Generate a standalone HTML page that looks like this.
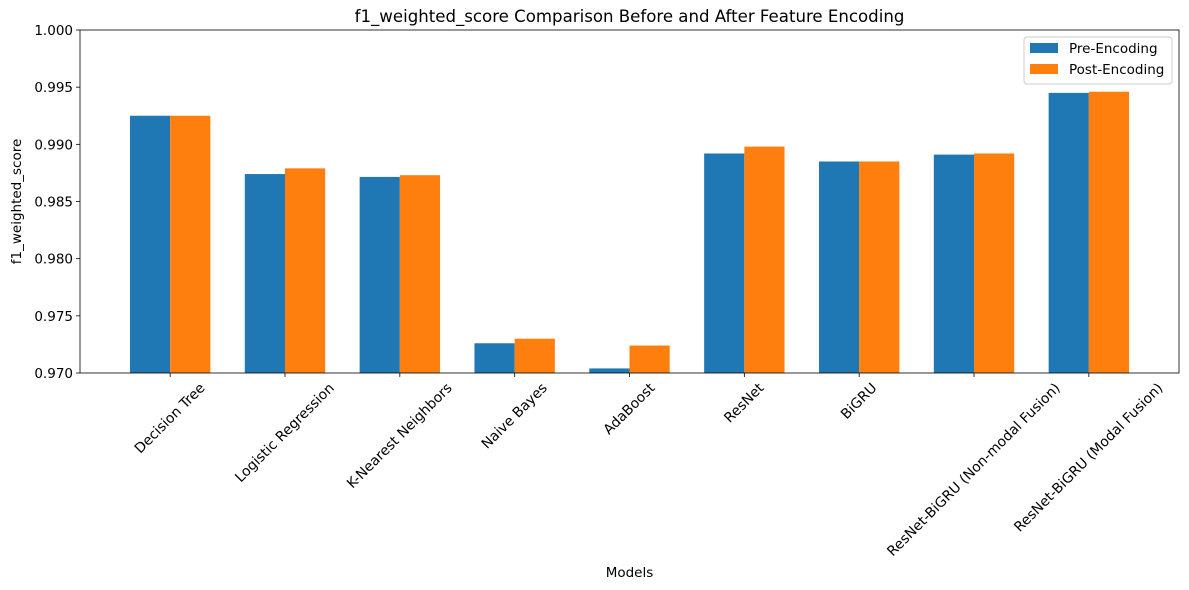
<!DOCTYPE html>
<html><head><meta charset="utf-8"><style>
html,body{margin:0;padding:0;background:#fff;}
svg{display:block;font-family:"DejaVu Sans","Liberation Sans",sans-serif;}
</style></head><body>
<svg id="chart" width="1189" height="590" xmlns="http://www.w3.org/2000/svg"></svg>
<script>
const categories=["Decision Tree","Logistic Regression","K-Nearest Neighbors","Naive Bayes","AdaBoost","ResNet","BiGRU","ResNet-BiGRU (Non-modal Fusion)","ResNet-BiGRU (Modal Fusion)"];
const preValues=[0.9925,0.9874,0.98715,0.9726,0.9704,0.9892,0.9885,0.9891,0.9945];
const postValues=[0.9925,0.9879,0.9873,0.9730,0.9724,0.9898,0.9885,0.9892,0.9946];
const yTicks=[0.970,0.975,0.980,0.985,0.990,0.995,1.000];
const yTickLabels=["0.970","0.975","0.980","0.985","0.990","0.995","1.000"];

const NS="http://www.w3.org/2000/svg";
const svg=document.getElementById('chart');
const L=80,R=1179,T=30,B=373;
const yMin=0.970,yMax=1.000;
const n=categories.length;
const FS=13.5;
const XFS=13.9;
const xLo=-0.35-0.05*(n-1+0.7),xHi=(n-1)+0.35+0.05*(n-1+0.7);
const x=v=>L+(v-xLo)/(xHi-xLo)*(R-L);
const y=v=>B-(v-yMin)/(yMax-yMin)*(B-T);
const bw=0.35*(R-L)/(xHi-xLo);
function mk(tag,attrs,text){const e=document.createElementNS(NS,tag);for(const k in attrs)e.setAttribute(k,attrs[k]);if(text!=null)e.textContent=text;svg.appendChild(e);return e;}

for(let i=0;i<n;i++){
  const cx=x(i);
  let r=mk('rect',{x:cx-bw,y:y(preValues[i]),width:bw,height:B-y(preValues[i]),fill:'#1f77b4'});
  
  
  r=mk('rect',{x:cx,y:y(postValues[i]),width:bw,height:B-y(postValues[i]),fill:'#ff7f0e'});
  
  
  let t=mk('line',{x1:cx,x2:cx,y1:B,y2:B+4,stroke:'#000','stroke-width':0.8});
  
  
  let lb=mk('text',{x:0,y:0,'font-size':XFS,'text-anchor':'middle','dominant-baseline':'central'},categories[i]);
  
  
  const w=lb.getComputedTextLength(),h=XFS;
  const cy=B+8+(w+h)*0.7071/2;
  lb.setAttribute('transform',`translate(${cx},${cy}) rotate(-45)`);
}
yTicks.forEach((v,i)=>{
  let t=mk('line',{x1:L-4,x2:L,y1:y(v),y2:y(v),stroke:'#000','stroke-width':0.8});
  
  
  let lb=mk('text',{x:L-7,y:y(v)+5,'font-size':FS,'text-anchor':'end'},yTickLabels[i]);
  
  
});
let f=mk('rect',{x:L,y:T,width:R-L,height:B-T,fill:'none',stroke:'#000','stroke-width':0.8});


let tt=mk('text',{x:(L+R)/2,y:22,'font-size':16.6,'text-anchor':'middle'},'f1_weighted_score Comparison Before and After Feature Encoding');


let xt=mk('text',{x:(L+R)/2,y:577,'font-size':FS,'text-anchor':'middle'},'Models');


let yt=mk('text',{x:0,y:0,'font-size':FS,'text-anchor':'middle',transform:`translate(21,${(T+B)/2}) rotate(-90)`},'f1_weighted_score');


let lg=mk('rect',{x:1024,y:37,width:148,height:47,fill:'#fff',stroke:'#ccc',rx:3});


[['#1f77b4','Pre-Encoding',43],['#ff7f0e','Post-Encoding',64]].forEach(([c,s,yy],i)=>{
  let sw=mk('rect',{x:1030,y:yy,width:28,height:10,fill:c});
  
  
  let lt=mk('text',{x:1069,y:yy+10,'font-size':FS},s);
  
  
});
</script>
</body></html>
